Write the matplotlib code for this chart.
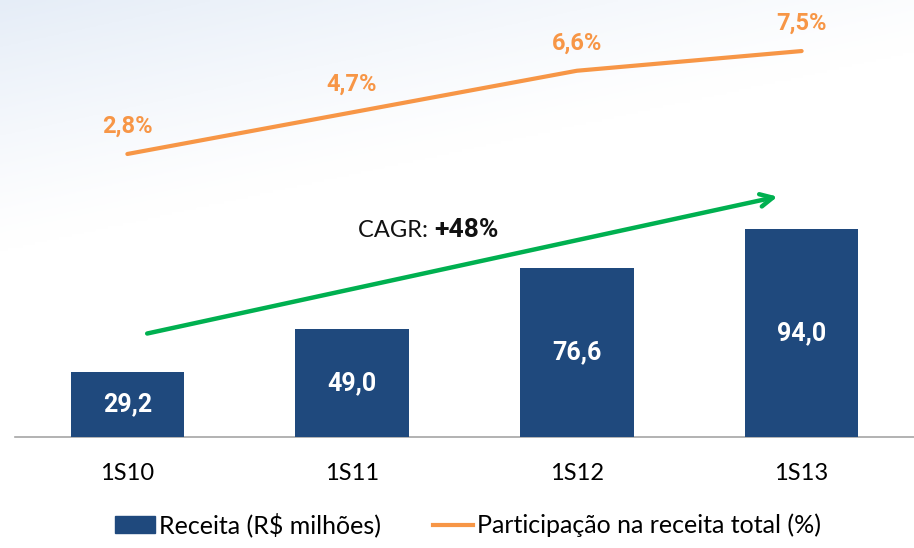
import matplotlib
matplotlib.use("Agg")
import matplotlib.pyplot as plt
import numpy as np
from matplotlib.lines import Line2D
from matplotlib.patches import Patch

plt.rcParams['font.family'] = ['Lato', 'DejaVu Sans']
bold_family = ['Roboto', 'DejaVu Sans']

categories = ["1S10", "1S11", "1S12", "1S13"]
receita = [29.2, 49.0, 76.6, 94.0]
receita_labels = ["29,2", "49,0", "76,6", "94,0"]
participacao = [2.8, 4.7, 6.6, 7.5]
participacao_labels = ["2,8%", "4,7%", "6,6%", "7,5%"]
cagr_label = "+48%"

bar_color = "#1F497D"
line_color = "#F79646"
green = "#00B050"

fig = plt.figure(figsize=(9.14, 5.48), dpi=100)

# subtle background gradient (top-left bluish)
bg = fig.add_axes([0, 0, 1, 1], zorder=-10)
yy, xx = np.mgrid[0:1:200j, 0:1:300j]
t = np.clip(1 - (0.8 * xx + 2.2 * yy), 0, 1) ** 1.2
c0 = np.array([1.0, 1.0, 1.0])
c1 = np.array([0.90, 0.93, 0.97])
img = c0[None, None, :] * (1 - t[..., None]) + c1[None, None, :] * t[..., None]
bg.imshow(img, aspect='auto', extent=[0, 1, 0, 1], origin='upper')
bg.axis('off')

ax = fig.add_axes([15 / 914, (548 - 437) / 548, 899 / 914, 437 / 548])
ax.patch.set_alpha(0)
x = np.arange(len(categories))
bars = ax.bar(x, receita, width=0.505, color=bar_color, zorder=3)
ax.set_xlim(-0.5, 3.5)
ax.set_ylim(0, 197.5)
for xi, v, lab in zip(x, receita, receita_labels):
    ax.text(xi, v / 2, lab, ha='center', va='center', color='white',
            fontsize=18, fontweight='bold', family=bold_family, zorder=4)

for s in ['top', 'right', 'left']:
    ax.spines[s].set_visible(False)
ax.spines['bottom'].set_color('#A6A6A6')
ax.spines['bottom'].set_linewidth(1.2)
ax.set_yticks([])
ax.set_xticks(x)
ax.set_xticklabels(categories, fontsize=17)
ax.tick_params(axis='x', length=0, pad=19)

ax2 = ax.twinx()
ax2.set_ylim(-10.12, 9.83)
ax2.plot(x, participacao, color=line_color, linewidth=3, solid_capstyle='round', zorder=5)
for xi, v, lab in zip(x, participacao, participacao_labels):
    ax2.annotate(lab, (xi, v), xytext=(0, 20), textcoords='offset points',
                 ha='center', va='center', color=line_color, fontsize=17,
                 fontweight='bold', family=bold_family)
ax2.set_yticks([])
for s in ax2.spines.values():
    s.set_visible(False)

# CAGR arrow
ax.annotate("", xy=(2.905, 108.9), xytext=(0.076, 46.5),
            arrowprops=dict(arrowstyle="->,head_length=0.9,head_width=0.45",
                            color=green, lw=3.2, capstyle='round'), zorder=6)
ax.text(1.364, 93.5, "CAGR: ", ha='right', va='center', fontsize=17, color='#111111')
ax.text(1.364, 93.5, cagr_label, ha='left', va='center', fontsize=19, fontweight='bold',
        family=bold_family, color='#111111')

handles = [Patch(facecolor=bar_color, edgecolor=bar_color, label="Receita (R$ milhões)"),
           Line2D([0], [0], color=line_color, lw=3, label="Participação na receita total (%)")]
fig.legend(handles=handles, loc='center', bbox_to_anchor=(0.512, (548 - 525) / 548), ncol=2,
           frameon=False, fontsize=18, handlelength=1.6, handleheight=0.65,
           handletextpad=0.16, columnspacing=2.1)

fig.savefig("out.png", dpi=100)
